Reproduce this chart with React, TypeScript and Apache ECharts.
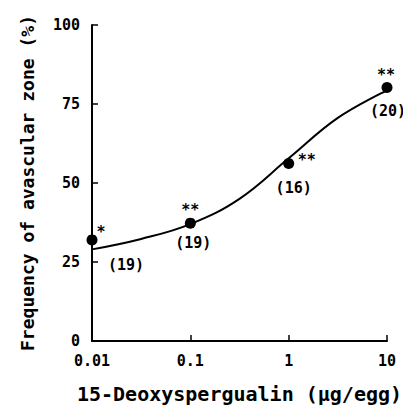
import React, { useEffect, useRef } from "react";
import * as echarts from "echarts";

const doses = [0.01, 0.1, 1, 10];
const frequency = [32, 37.3, 56.2, 80.2];
const significance = ["*", "**", "**", "**"];
const sampleSizes = ["(19)", "(19)", "(16)", "(20)"];
const fitX = [0.01, 0.0316, 0.1, 0.316, 1, 3.16, 10];
const fitY = [29, 32.3, 37, 45, 57.8, 70.6, 79.3];
const yTicks = [0, 25, 50, 75, 100];

const starOffsets = [[9, -8], [0, -13], [18, -3], [-1, -13]];
const countOffsets = [[34, 25], [3, 20], [5, 25], [1, 23]];

const FONT = "DejaVu Sans Mono";

export default function App() {
  const ref = useRef<HTMLDivElement>(null);
  useEffect(() => {
    const chart = echarts.init(ref.current!, null, { renderer: "svg" });
    chart.setOption({
      animation: false,
      backgroundColor: "#fff",
      grid: { left: 84, right: 24, top: 17, bottom: 57 },
      xAxis: {
        type: "log",
        logBase: 10,
        min: 0.01,
        max: 10,
        name: "15-Deoxyspergualin (µg/egg)",
        nameLocation: "middle",
        nameGap: 43,
        nameTextStyle: { fontFamily: FONT, fontSize: 20, fontWeight: "bold", color: "#000" },
        axisLine: { lineStyle: { color: "#000", width: 2 } },
        axisTick: { inside: true, length: 6, lineStyle: { color: "#000", width: 1.5 } },
        axisLabel: {
          fontFamily: FONT,
          fontSize: 15,
          fontWeight: "bold",
          color: "#000",
          margin: 12,
          formatter: (v: number) => (v < 0.05 ? "0.01" : v < 0.5 ? "0.1" : String(Math.round(v))),
        },
        splitLine: { show: false },
        minorTick: { show: false },
      },
      yAxis: {
        type: "value",
        min: yTicks[0],
        max: yTicks[yTicks.length - 1],
        interval: 25,
        name: "Frequency of avascular zone (%)",
        nameLocation: "middle",
        nameGap: 56,
        nameTextStyle: { fontFamily: FONT, fontSize: 18, fontWeight: "bold", color: "#000" },
        axisLine: { show: true, lineStyle: { color: "#000", width: 2 } },
        axisTick: { show: true, inside: true, length: 6, lineStyle: { color: "#000", width: 1.5 } },
        axisLabel: { fontFamily: FONT, fontSize: 15, fontWeight: "bold", color: "#000", margin: 12 },
        splitLine: { show: false },
      },
      series: [
        {
          type: "line",
          smooth: 0.4,
          symbol: "none",
          lineStyle: { color: "#000", width: 2 },
          data: fitX.map((x, i) => [x, fitY[i]]),
          z: 2,
        },
        {
          type: "scatter",
          symbol: "circle",
          symbolSize: 11,
          itemStyle: { color: "#000", opacity: 1 },
          data: doses.map((d, i) => ({
            value: [d, frequency[i]],
            label: {
              show: true,
              formatter: significance[i],
              position: "inside",
              offset: starOffsets[i],
              fontFamily: FONT,
              fontWeight: "bold",
              fontSize: 15,
              color: "#000",
            },
          })),
          z: 3,
        },
        {
          type: "scatter",
          symbolSize: 1,
          itemStyle: { color: "#fff", opacity: 0 },
          data: doses.map((d, i) => ({
            value: [d, frequency[i]],
            label: {
              show: true,
              formatter: sampleSizes[i],
              position: "inside",
              offset: countOffsets[i],
              fontFamily: FONT,
              fontWeight: "bold",
              fontSize: 15,
              color: "#000",
              opacity: 1,
            },
          })),
          z: 3,
        },
      ],
    });
    return () => chart.dispose();
  }, []);
  return <div ref={ref} style={{ width: 403, height: 401 }} />;
}
